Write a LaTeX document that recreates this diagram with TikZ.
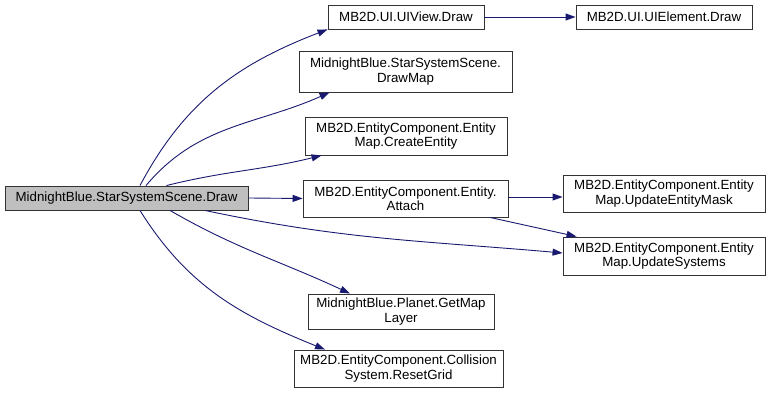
\documentclass[tikz,border=0pt]{standalone}
\usepackage{fontspec}
\setmainfont{Liberation Sans}
\usetikzlibrary{arrows.meta,positioning}
\definecolor{edge}{HTML}{191970}
\definecolor{rootfill}{HTML}{BFBFBF}
\definecolor{boxline}{HTML}{333333}

\begin{document}
\begin{tikzpicture}[
  x=1pt, y=1pt,
  fn/.style={draw=boxline, line width=0.9pt, fill=white, align=center, inner sep=0pt,
    font=\fontsize{13.3}{14.5}\selectfont},
  arr/.style={edge, line width=0.9pt, -{Triangle[length=10pt, width=7pt]}}
]
  \useasboundingbox (0,0) rectangle (770,401);

  % Caller
  \node[fn, fill=rootfill, minimum width=243, minimum height=24] (root) at (126.5, 203) {MidnightBlue.StarSystemScene.Draw};

  % First level callees
  \node[fn, minimum width=156, minimum height=24] (uiview) at (406, 384) {MB2D.UI.UIView.Draw};
  \node[fn, minimum width=213, minimum height=41] (drawmap) at (405.5, 329.5) {MidnightBlue.StarSystemScene.\\DrawMap};
  \node[fn, minimum width=202, minimum height=38] (create) at (406, 265) {MB2D.EntityComponent.Entity\\Map.CreateEntity};
  \node[fn, minimum width=205, minimum height=37] (attach) at (405.5, 202.5) {MB2D.EntityComponent.Entity.\\Attach};
  \node[fn, minimum width=186, minimum height=35] (getmap) at (401, 89.5) {MidnightBlue.Planet.GetMap\\Layer};
  \node[fn, minimum width=209, minimum height=37] (reset) at (398.5, 32.5) {MB2D.EntityComponent.Collision\\System.ResetGrid};

  % Second level callees
  \node[fn, minimum width=176, minimum height=24] (uielem) at (664, 384) {MB2D.UI.UIElement.Draw};
  \node[fn, minimum width=202, minimum height=37] (mask) at (664, 207.5) {MB2D.EntityComponent.Entity\\Map.UpdateEntityMask};
  \node[fn, minimum width=202, minimum height=38] (systems) at (664, 145) {MB2D.EntityComponent.Entity\\Map.UpdateSystems};

  % Calls from the caller
  \draw[arr] ([xshift=13.5]root.north) to[out=62, in=201] (uiview.south west);
  \draw[arr] ([xshift=19.5]root.north) to[out=50, in=204] ([xshift=31]drawmap.south west);
  \draw[arr] ([xshift=40]root.north) to[out=14, in=194] ([xshift=17]create.south west);
  \draw[arr] (root.east) -- (attach.west);
  \draw[arr] ([xshift=78.5]root.south) to[out=-12, in=175] ([yshift=3]systems.west);
  \draw[arr] ([xshift=43.5]root.south) to[out=-30, in=155] ([xshift=-51]getmap.north);
  \draw[arr] ([xshift=13.5]root.south) to[out=-58, in=158] ([xshift=-73.5]reset.north);

  % Calls one level down
  \draw[arr] (uiview.east) -- (uielem.west);
  \draw[arr] ([yshift=1.5]attach.east) -- ([yshift=-3.5]mask.west);
  \draw[arr] ([xshift=84.5]attach.south) -- ([xshift=14]systems.north west);
\end{tikzpicture}
\end{document}
